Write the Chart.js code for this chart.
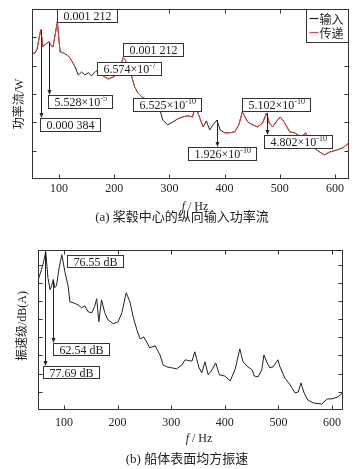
<!DOCTYPE html>
<html><head><meta charset="utf-8">
<script src="https://cdn.jsdelivr.net/npm/chart.js@4"></script>
<style>
body{margin:0;background:#fff;width:356px;height:469px;overflow:hidden;position:relative}
canvas{position:absolute;left:0}
#ca{top:0}
#cb{top:225px}
</style></head><body>
<canvas id="ca" width="356" height="225"></canvas>
<canvas id="cb" width="356" height="244"></canvas>
<script>
// ---------- data: (a) power flow (arbitrary log-like units, 6 tick intervals) ----------
const freqA = [51,55,60,64,67,71,76,82,86,89,93,97,100,102,108,114,120,125,129,135,141,147,153,159,165,171,176,180,189,198,207,212,216,220,225,232,237,243,250,260,270,278,283,288,297,306,315,324,333,342,346,351,355,361,367,373,379,386,392,400,409,418,426,432,442,451,460,469,476,481,487,496,501,509,518,527,539,547,554,567,581,590,603,614,625];
const inputA = [4.49,4.42,4.56,4.98,5.27,4.66,4.77,4.84,4.70,4.66,5.09,5.55,4.91,4.49,4.45,4.38,4.28,4.10,3.96,3.67,3.78,3.67,3.75,3.64,3.78,3.85,3.78,3.64,3.53,3.60,3.71,3.96,4.28,4.20,4.03,3.60,3.25,3.04,2.90,2.79,2.69,2.58,2.44,2.08,1.91,2.01,2.12,2.19,2.23,2.19,2.51,2.37,2.16,1.84,2.05,1.73,1.91,2.08,1.73,1.63,1.63,1.66,1.91,2.37,2.01,1.91,1.84,1.98,2.33,1.98,1.84,2.08,2.19,1.98,1.66,1.63,1.48,1.63,1.27,1.02,0.85,0.95,1.02,1.10,1.27];
const transA = [4.49,4.42,4.56,4.98,5.27,4.66,4.77,4.84,4.70,4.66,5.09,5.55,4.91,4.49,4.45,4.38,4.28,4.10,null,null,null,null,null,null,3.78,3.85,3.78,3.64,3.53,3.60,3.71,3.96,4.28,4.20,4.03,3.60,3.25,3.04,2.90,2.79,2.69,2.58,2.44,null,null,null,2.12,2.19,2.23,2.19,2.51,2.37,2.16,1.84,null,null,null,null,null,1.63,1.63,1.66,1.91,2.37,2.01,1.91,1.84,1.98,2.33,1.98,1.84,2.08,2.19,1.98,1.66,1.63,1.48,1.63,1.27,1.02,0.85,0.95,1.02,1.10,1.27];
const seriesNamesA = ['输入','传递'];
// ---------- data: (b) mean-square vibration velocity ----------
const freqB = [52,58,62,66,70,74,77,80,83,86,91,96,102,108,111,117,126,133,139,145,152,157,161,165,170,176,182,192,201,208,216,223,229,236,242,249,254,260,270,279,285,292,301,310,320,326,335,339,344,352,357,363,369,376,383,390,400,410,419,428,434,443,451,455,462,469,473,479,484,490,499,503,512,522,531,537,542,548,555,565,581,591,600,611,620];
const velB = [7.17,7.72,8.16,8.71,7.28,6.62,6.84,7.17,6.73,6.84,7.83,8.54,7.55,6.78,5.95,5.90,5.79,5.62,5.73,5.40,5.35,5.68,6.12,4.85,6.06,5.35,4.96,4.74,4.85,5.35,6.45,5.95,5.13,4.41,3.91,4.02,3.75,3.42,3.53,3.03,2.48,2.37,2.32,2.26,2.48,2.76,2.70,2.70,3.20,2.32,2.04,2.65,1.93,2.21,2.59,1.93,1.87,1.60,2.21,3.36,2.65,2.37,2.21,1.87,1.82,2.21,3.03,2.59,2.32,2.37,2.76,2.37,1.76,1.38,0.94,0.99,1.49,0.94,0.55,0.39,0.33,0.61,0.61,0.72,0.94];
const xTickVals = [100,200,300,400,500,600];

// ---------- annotations (data coordinates of box top-left, optional arrow source point) ----------
const annA = [
  {f:96.4, v:6.0, parts:[['0.001 212']]},
  {f:80, v:2.97, parts:[['5.528×10'],['-5',1]], arrow:{f:82, v:4.84}},
  {f:65.6, v:2.16, parts:[['0.000 384']], arrow:{f:67, v:5.27}},
  {f:215.7, v:4.81, parts:[['0.001 212']]},
  {f:168.7, v:4.13, parts:[['6.574×10'],['-7',1]]},
  {f:233.8, v:2.86, parts:[['6.525×10'],['-10',1]]},
  {f:431, v:2.86, parts:[['5.102×10'],['-10',1]]},
  {f:470.7, v:1.55, parts:[['4.802×10'],['-10',1]], arrow:{f:476, v:2.33}},
  {f:333, v:1.13, parts:[['1.926×10'],['-10',1]], arrow:{f:385.7, v:2.08}}
];
const annB = [
  {f:105.6, v:8.54, parts:[['76.55 dB']]},
  {f:79.5, v:3.69, parts:[['62.54 dB']], arrow:{f:79.5, v:7.17}},
  {f:60.8, v:2.43, parts:[['77.69 dB']], arrow:{f:65, v:8.71}}
];

const SERIF = '"Liberation Serif", "Times New Roman", serif';
const CJK = '"Noto Sans CJK SC", sans-serif';
const MIX = '"Liberation Serif", "Noto Sans CJK SC", serif';
const FRAME = '#333';

function toPts(xs, ys){ return xs.map((x,i)=>({x:x, y:ys[i]})); }

function drawLabel(ctx, x0, y0, parts, h){
  const nf = '12px ' + SERIF, sf = '8px ' + SERIF;
  let w = 0;
  parts.forEach(p=>{ ctx.font = p[1] ? sf : nf; w += ctx.measureText(p[0]).width; });
  const pad = 6, bw = Math.round(w + 2*pad);
  const bx = Math.round(x0)+0.5, by = Math.round(y0)+0.5;
  ctx.fillStyle = '#fff'; ctx.fillRect(bx, by, bw, h);
  ctx.strokeStyle = FRAME; ctx.lineWidth = 1; ctx.strokeRect(bx, by, bw, h);
  let tx = bx + pad; const base = by + h/2 + 4;
  ctx.fillStyle = '#222'; ctx.textAlign = 'left'; ctx.textBaseline = 'alphabetic';
  parts.forEach(p=>{
    ctx.font = p[1] ? sf : nf;
    ctx.fillText(p[0], tx, p[1] ? base - 5 : base);
    tx += ctx.measureText(p[0]).width;
  });
}

function drawArrow(ctx, x, y1, y2){
  x = Math.round(x)+0.5;
  ctx.strokeStyle = '#222'; ctx.lineWidth = 1;
  ctx.beginPath(); ctx.moveTo(x, y1); ctx.lineTo(x, y2-3); ctx.stroke();
  ctx.fillStyle = '#222';
  ctx.beginPath(); ctx.moveTo(x-2, y2-5); ctx.lineTo(x+2, y2-5); ctx.lineTo(x, y2); ctx.closePath(); ctx.fill();
}

function decorPlugin(cfg){
  return {
    id:'decor'+cfg.tag,
    afterDatasetsDraw(chart){
      const ctx = chart.ctx, a = chart.chartArea, xs = chart.scales.x, ys = chart.scales.y;
      ctx.save();
      ctx.strokeStyle = FRAME; ctx.lineWidth = 1;
      const L = Math.round(a.left)+0.5, R = Math.round(a.right)-0.5, T = Math.round(a.top)+0.5, B = Math.round(a.bottom)-0.5;
      ctx.strokeRect(L, T, R-L, B-T);
      ctx.beginPath();
      xs.ticks.forEach(t=>{
        const px = Math.round(xs.getPixelForValue(t.value))+0.5;
        ctx.moveTo(px, B); ctx.lineTo(px, B-4);
        ctx.moveTo(px, T); ctx.lineTo(px, T+4);
      });
      ys.ticks.forEach(t=>{
        const py = Math.round(ys.getPixelForValue(t.value))+0.5;
        ctx.moveTo(L, py); ctx.lineTo(L+4, py);
        ctx.moveTo(R, py); ctx.lineTo(R-4, py);
      });
      ctx.stroke();
      cfg.ann.forEach(an=>{
        const by = ys.getPixelForValue(an.v);
        if (an.arrow){
          drawArrow(ctx, xs.getPixelForValue(an.arrow.f), ys.getPixelForValue(an.arrow.v), Math.round(by));
        }
      });
      cfg.ann.forEach(an=>{
        drawLabel(ctx, xs.getPixelForValue(an.f), ys.getPixelForValue(an.v), an.parts, cfg.boxH);
      });
      if (cfg.legend){
        const lw = 42, lh = 33, lx = Math.round(a.right) - lw - 0.5, ly = T;
        ctx.fillStyle = '#fff'; ctx.fillRect(lx, ly, lw, lh);
        ctx.strokeStyle = FRAME; ctx.strokeRect(lx, ly, lw, lh);
        chart.data.datasets.forEach((d,i)=>{
          const cy = ly + 9 + i*14;
          ctx.strokeStyle = d.borderColor; ctx.lineWidth = 1.2;
          ctx.beginPath(); ctx.moveTo(lx+3, cy); ctx.lineTo(lx+12, cy); ctx.stroke();
          ctx.fillStyle = '#222'; ctx.font = '12px ' + CJK; ctx.textAlign = 'left'; ctx.textBaseline = 'middle';
          ctx.fillText(d.label, lx+13, cy+0.5);
        });
      }
      ctx.restore();
    },
    afterDraw(chart){
      const ctx = chart.ctx;
      ctx.save();
      ctx.fillStyle = '#222';
      ctx.translate(cfg.yTitle.x, cfg.yTitle.y); ctx.rotate(-Math.PI/2);
      ctx.font = '12px ' + MIX; ctx.textAlign = 'center'; ctx.textBaseline = 'middle';
      ctx.fillText(cfg.yTitle.text, 0, 0);
      ctx.setTransform(1,0,0,1,0,0);
      const fi = 'italic 12px ' + SERIF, fn = '12px ' + SERIF;
      ctx.font = fi; const w1 = ctx.measureText('f').width;
      ctx.font = fn; const w2 = ctx.measureText(' / Hz').width;
      let sx = cfg.xTitle.x - (w1+w2)/2;
      ctx.textAlign = 'left'; ctx.textBaseline = 'middle';
      ctx.font = fi; ctx.fillText('f', sx, cfg.xTitle.y);
      ctx.font = fn; ctx.fillText(' / Hz', sx + w1, cfg.xTitle.y);
      ctx.font = '13px ' + MIX; ctx.textAlign = 'center';
      ctx.fillText(cfg.caption.text, cfg.caption.x, cfg.caption.y);
      ctx.restore();
    }
  };
}

function makeChart(id, o){
  return new Chart(document.getElementById(id), {
    type:'line',
    data:{ datasets:o.datasets },
    options:{
      responsive:false, animation:false,
      layout:{ padding:o.padding },
      plugins:{ legend:{display:false}, tooltip:{enabled:false} },
      elements:{ point:{radius:0}, line:{tension:0, borderWidth:1} },
      scales:{
        x:{ type:'linear', min:o.xmin, max:o.xmax,
            grid:{display:false, drawTicks:false}, border:{display:false},
            ticks:{ padding:o.tickPad, color:'#222', font:{family:SERIF, size:12}, maxRotation:0, autoSkip:false },
            afterBuildTicks:s=>{ s.ticks = xTickVals.map(v=>({value:v})); },
            afterFit:s=>{ s.height = o.xH; } },
        y:{ type:'linear', min:o.ymin, max:o.ymax,
            grid:{display:false, drawTicks:false}, border:{display:false},
            ticks:{ display:false, stepSize:1 },
            afterBuildTicks:s=>{ s.ticks = s.ticks.filter(t=>Number.isInteger(t.value) && t.value>o.ymin && t.value<o.ymax); },
            afterFit:s=>{ s.width = o.yW; } }
      }
    },
    plugins:[decorPlugin(o.decor)]
  });
}

makeChart('ca', {
  xmin:51.1, xmax:625.4, ymin:0, ymax:6,
  padding:{left:0, right:7, top:9, bottom:0}, xH:46, yW:32, tickPad:3,
  datasets:[
    {label:seriesNamesA[0], data:toPts(freqA, inputA), borderColor:'#222', spanGaps:false, order:2},
    {label:seriesNamesA[1], data:toPts(freqA, transA), borderColor:'rgb(232,66,66)', spanGaps:false, order:1}
  ],
  decor:{ tag:'a', ann:annA, boxH:13, legend:true,
    yTitle:{text:'功率流/W', x:20, y:104},
    xTitle:{x:195, y:207},
    caption:{text:'(a) 桨毂中心的纵向输入功率流', x:182, y:218} }
});

makeChart('cb', {
  xmin:51.5, xmax:620.5, ymin:0, ymax:8.8,
  padding:{left:0, right:13, top:25, bottom:0}, xH:59, yW:38, tickPad:6,
  datasets:[
    {label:'振速级', data:toPts(freqB, velB), borderColor:'#222'}
  ],
  decor:{ tag:'b', ann:annB, boxH:12, legend:false,
    yTitle:{text:'振速级/dB(A)', x:23, y:101},
    xTitle:{x:199, y:214},
    caption:{text:'(b) 船体表面均方振速', x:187, y:235} }
});
</script>
</body></html>
